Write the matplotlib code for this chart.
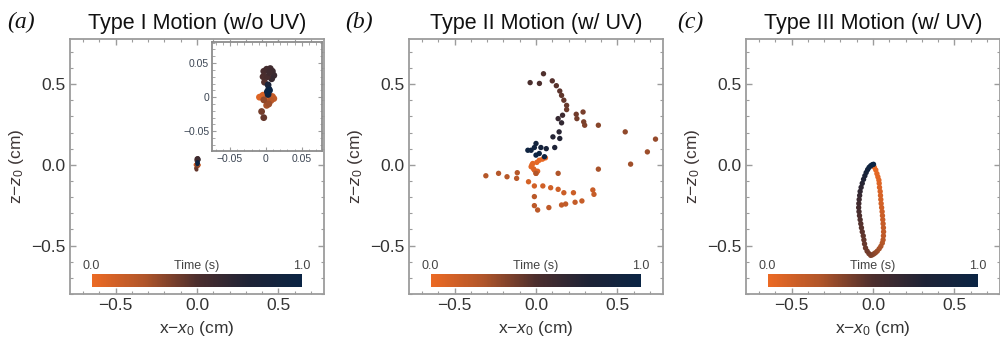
import numpy as np
import matplotlib
matplotlib.use("Agg")
import matplotlib.pyplot as plt
from matplotlib.colors import LinearSegmentedColormap
from matplotlib.ticker import MultipleLocator
import matplotlib.cm as cm

plt.rcParams['font.family'] = ['Liberation Sans', 'DejaVu Sans']
plt.rcParams['mathtext.fontset'] = 'custom'
plt.rcParams['mathtext.rm'] = 'Liberation Sans'
plt.rcParams['mathtext.it'] = 'Liberation Sans:italic'

# Titel und Panel-Buchstaben
titles = ["Type I Motion (w/o UV)", "Type II Motion (w/ UV)", "Type III Motion (w/ UV)"]
letters = ["(a)", "(b)", "(c)"]

# Typ I (ohne UV): x, z in cm, Zeit in s
x_a = [0.000, -0.006, -0.009, -0.004, 0.005, 0.009, 0.011, 0.007, 0.003, 0.001, 0.004, -0.003,
       -0.006, -0.003, -0.002, -0.004, -0.003, 0.001, 0.006, 0.009, 0.011, 0.008, 0.002, 0.005,
       0.003, 0.004, 0.002, 0.003, 0.005]
z_a = [0.000, 0.001, 0.000, 0.003, 0.002, 0.001, -0.002, -0.005, -0.008, -0.012, -0.010, -0.004,
       -0.021, -0.030, 0.022, 0.030, 0.038, 0.041, 0.042, 0.038, 0.032, 0.027, 0.030, 0.036,
       0.018, 0.012, 0.008, 0.004, 0.010]
t_a = [0.00, 0.03, 0.06, 0.09, 0.12, 0.15, 0.18, 0.21, 0.24, 0.27, 0.30, 0.33,
       0.40, 0.44, 0.48, 0.50, 0.52, 0.54, 0.56, 0.58, 0.60, 0.62, 0.53, 0.57,
       0.80, 0.86, 0.92, 0.96, 1.00]

# Typ II (mit UV)
x_b = [0.058, 0.040, 0.020, 0.005, -0.020, -0.030, -0.015, -0.010, 0.000, 0.010, -0.025,
       -0.046, -0.010, 0.042, 0.090, 0.136, 0.171, 0.230, 0.349, 0.356, 0.282, 0.240, 0.182,
       0.157, 0.079, 0.010, -0.010, -0.010, -0.119, -0.115, -0.178, -0.230, -0.308, 0.000, 0.136,
       0.383, 0.581, 0.684, 0.734, 0.548, 0.383,
       0.299, 0.293, 0.289, 0.251, 0.247, 0.188, 0.188, 0.171, 0.157, 0.146, 0.125, 0.100,
       0.046, 0.021, -0.036,
       0.163, 0.136, 0.157, 0.142, 0.104, 0.146, 0.115,
       0.063, 0.030, 0.000, -0.010, -0.030, -0.050, 0.020, 0.052, 0.000]
z_b = [0.043, 0.035, 0.028, 0.015, 0.008, -0.012, -0.025, -0.033, -0.053, -0.040, 0.000,
       -0.105, -0.131, -0.131, -0.142, -0.152, -0.173, -0.173, -0.156, -0.183, -0.224, -0.232, -0.243,
       -0.249, -0.265, -0.280, -0.253, -0.197, -0.084, -0.049, -0.074, -0.053, -0.068, -0.053, -0.053,
       -0.027, 0.004, 0.080, 0.159, 0.204, 0.245,
       0.245, 0.266, 0.327, 0.286, 0.313, 0.342, 0.368, 0.400, 0.430, 0.457, 0.490, 0.520,
       0.564, 0.504, 0.509,
       0.307, 0.286, 0.260, 0.204, 0.173, 0.163, 0.107,
       0.100, 0.107, 0.132, 0.107, 0.090, 0.090, 0.070, 0.050, 0.060]
t_b = [0.00, 0.01, 0.02, 0.03, 0.04, 0.05, 0.06, 0.07, 0.08, 0.07, 0.045,
       0.10, 0.11, 0.12, 0.12, 0.13, 0.14, 0.14, 0.15, 0.16, 0.16, 0.17, 0.18,
       0.18, 0.19, 0.20, 0.20, 0.21, 0.21, 0.22, 0.22, 0.23, 0.23, 0.24, 0.25,
       0.27, 0.29, 0.30, 0.32, 0.33, 0.35,
       0.37, 0.38, 0.39, 0.40, 0.41, 0.42, 0.43, 0.44, 0.45, 0.46, 0.47, 0.48,
       0.49, 0.50, 0.51,
       0.58, 0.61, 0.64, 0.68, 0.71, 0.73, 0.76,
       0.82, 0.85, 0.88, 0.90, 0.92, 0.94, 0.96, 0.98, 1.00]

# Typ III (mit UV): geschlossene Schleife
x_c = [0.000, 0.008, 0.017, 0.024, 0.030, 0.036, 0.038, 0.040, 0.044, 0.046, 0.048, 0.050,
       0.053, 0.056, 0.058, 0.060, 0.062, 0.064, 0.065, 0.064, 0.062, 0.057, 0.048, 0.038,
       0.026, 0.015, 0.005, -0.005, -0.014,
       -0.025, -0.036, -0.046, -0.052, -0.056, -0.060, -0.066, -0.071, -0.075, -0.079, -0.083,
       -0.086, -0.088, -0.087, -0.085, -0.082, -0.079, -0.073, -0.066, -0.058, -0.050, -0.042,
       -0.033, -0.024, -0.014, -0.005, 0.003]
z_c = [0.000, -0.015, -0.032, -0.055, -0.075, -0.095, -0.115, -0.140, -0.165, -0.190, -0.215, -0.240,
       -0.265, -0.290, -0.315, -0.340, -0.365, -0.390, -0.415, -0.440, -0.465, -0.485, -0.505, -0.520,
       -0.535, -0.545, -0.552, -0.558, -0.561,
       -0.550, -0.535, -0.515, -0.490, -0.465, -0.440, -0.415, -0.390, -0.365, -0.340, -0.315,
       -0.290, -0.265, -0.240, -0.215, -0.190, -0.165, -0.140, -0.115, -0.090, -0.068, -0.048,
       -0.030, -0.016, -0.006, 0.000, 0.003]
t_c = [0.00, 0.01, 0.02, 0.03, 0.04, 0.05, 0.06, 0.07, 0.08, 0.09, 0.10, 0.11,
       0.12, 0.13, 0.14, 0.15, 0.16, 0.17, 0.18, 0.19, 0.21, 0.23, 0.25, 0.27,
       0.29, 0.31, 0.33, 0.35, 0.37,
       0.39, 0.41, 0.42, 0.43, 0.44, 0.45, 0.46, 0.47, 0.48, 0.49, 0.50,
       0.52, 0.54, 0.56, 0.58, 0.61, 0.64, 0.67, 0.70, 0.74, 0.78, 0.82,
       0.86, 0.90, 0.94, 0.97, 1.00]

cmap = LinearSegmentedColormap.from_list(
    "time", [(0.0, "#EC6A24"), (0.25, "#B0552A"), (0.5, "#4C2E2D"), (0.75, "#1E2336"), (1.0, "#0A2444")])

frame_col = "#9c9c9c"
text_col = "#333333"

fig = plt.figure(figsize=(10, 3.41), dpi=100)

lefts = [0.070, 0.409, 0.746]
letter_x = [0.007, 0.345, 0.677]
data = [(x_a, z_a, t_a, 8), (x_b, z_b, t_b, 15), (x_c, z_c, t_c, 15)]

for i in range(3):
    ax = fig.add_axes([lefts[i], 0.138, 0.254, 0.748])
    x, z, t, s = data[i]
    ax.scatter(x, z, c=t, cmap=cmap, vmin=0, vmax=1, s=s, linewidths=0, zorder=3)

    ax.set_xlim(-0.78, 0.78)
    ax.set_ylim(-0.80, 0.78)
    ax.set_xticks([-0.5, 0.0, 0.5])
    ax.set_yticks([-0.5, 0.0, 0.5])
    ax.xaxis.set_minor_locator(MultipleLocator(0.1))
    ax.yaxis.set_minor_locator(MultipleLocator(0.1))
    ax.tick_params(which="both", direction="in", top=True, right=True, color=frame_col,
                   labelcolor=text_col, labelsize=12.5, pad=3)
    ax.tick_params(which="major", length=4.5, width=1)
    ax.tick_params(which="minor", length=2.5, width=0.8)
    for sp in ax.spines.values():
        sp.set_color(frame_col)
        sp.set_linewidth(1.3)

    ax.set_xlabel("x−$x_0$ (cm)", fontsize=12.5, color=text_col, labelpad=4)
    ax.set_ylabel("z−$z_0$ (cm)", fontsize=12.5, color="#3d3535", labelpad=4)
    ax.set_title(titles[i], fontsize=15.5, color="#111111", pad=7)

    fig.text(letter_x[i], 0.935, letters[i], fontsize=17, family="Liberation Serif",
             style="italic", va="center", ha="left", color="#111111")

    # Farbskala unten im Diagramm
    cax = ax.inset_axes([0.085, 0.029, 0.829, 0.05])
    cb = fig.colorbar(cm.ScalarMappable(cmap=cmap), cax=cax, orientation="horizontal")
    cb.outline.set_visible(False)
    cax.set_xticks([])
    cax.set_yticks([])
    ax.text(0.085, 0.085, "0.0", transform=ax.transAxes, ha="center", va="bottom",
            fontsize=9, color="#444444")
    ax.text(0.5, 0.085, "Time (s)", transform=ax.transAxes, ha="center", va="bottom",
            fontsize=9, color="#444444")
    ax.text(0.914, 0.085, "1.0", transform=ax.transAxes, ha="center", va="bottom",
            fontsize=9, color="#444444")

# Inset für Typ I
axi = fig.add_axes([0.212, 0.557, 0.110, 0.320])
axi.scatter(x_a, z_a, c=t_a, cmap=cmap, vmin=0, vmax=1, s=24, linewidths=0, zorder=3)
axi.set_xlim(-0.075, 0.078)
axi.set_ylim(-0.079, 0.081)
axi.set_xticks([-0.05, 0, 0.05])
axi.set_yticks([-0.05, 0, 0.05])
axi.set_xticklabels(["−0.05", "0", "0.05"])
axi.set_yticklabels(["−0.05", "0", "0.05"])
axi.xaxis.set_minor_locator(MultipleLocator(0.01))
axi.yaxis.set_minor_locator(MultipleLocator(0.01))
axi.tick_params(which="both", direction="in", top=True, right=True, color=frame_col,
                labelcolor="#3c4654", labelsize=7.5, pad=2)
axi.tick_params(which="major", length=3)
axi.tick_params(which="minor", length=1.8)
for sp in axi.spines.values():
    sp.set_color("#8c8c8c")
    sp.set_linewidth(1.3)

fig.savefig("out.png", dpi=100)
